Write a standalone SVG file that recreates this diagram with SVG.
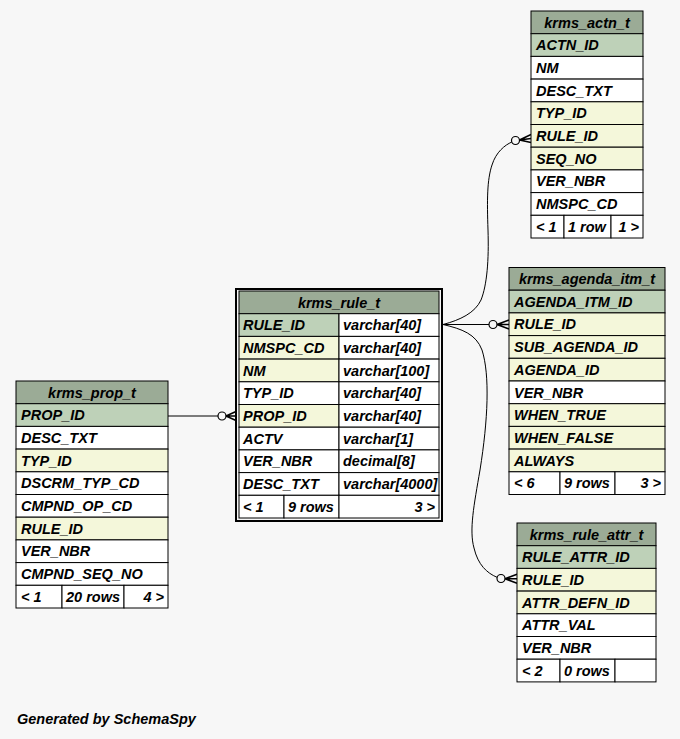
<svg xmlns="http://www.w3.org/2000/svg" width="680" height="739" viewBox="0 0 680 739">
<style>
.t{font-family:"Liberation Sans",Arial,sans-serif;font-weight:bold;font-style:italic;font-size:14.5px;fill:#000}
.m{text-anchor:middle}
.r{text-anchor:end}
rect.c{stroke:#000;stroke-width:1}
.h{fill:#9bab96}
.pk{fill:#bed1b8}
.ix{fill:#f4f7da}
.w{fill:#ffffff}
.e{fill:none;stroke:#000;stroke-width:1}
.o{fill:#f7f7f7;stroke:#000;stroke-width:1.2}
.cr{fill:none;stroke:#000;stroke-width:1.5}
</style>
<rect width="680" height="739" fill="#f7f7f7"/>

<g id="connectors">
  <!-- prop -> rule -->
  <path class="e" d="M168 416 H218"/>
  <circle class="o" cx="222" cy="416" r="4"/>
  <path class="cr" d="M226 416 L236 411.5 M226 416 L236 416 M226 416 L236 420.5"/>
  <!-- rule -> agenda -->
  <path class="e" d="M443 324.5 H489"/>
  <circle class="o" cx="493" cy="324.5" r="4"/>
  <path class="cr" d="M497 324.5 L509 320 M497 324.5 L509 324.5 M497 324.5 L509 329"/>
  <!-- rule -> actn -->
  <path class="e" d="M443 324.5 C460 320, 475 313, 481 300 C487 285, 489 260, 488 230 C487 200, 487 180, 492 165 C496 152, 505 145, 511.8 142"/>
  <circle class="o" cx="515.5" cy="140.5" r="4"/>
  <path class="cr" d="M519.5 140 L531 134.5 M519.5 140 L531 138.5 M519.5 140 L531 142.5"/>
  <!-- rule -> rule_attr -->
  <path class="e" d="M443 324.5 C462 329, 476 334, 482 350 C490 375, 488 420, 480 470 C474 505, 469 530, 474 548 C478 565, 487 573, 497 577.3"/>
  <circle class="o" cx="501" cy="578.5" r="4"/>
  <path class="cr" d="M505 578.8 L517 574.3 M505 578.8 L517 578.8 M505 578.8 L517 583.3"/>
</g>

<g id="krms_rule_t">
  <rect x="236" y="289" width="206" height="232" fill="none" stroke="#000" stroke-width="2"/>
  <rect class="c h" x="239" y="291" width="200" height="22.7"/>
  <text class="t m" x="339" y="307.5">krms_rule_t</text>
  <rect class="c pk" x="239" y="313.7" width="100" height="22.7"/><rect class="c w" x="339" y="313.7" width="100" height="22.7"/>
  <text class="t" x="243" y="330.2">RULE_ID</text><text class="t" x="343" y="330.2">varchar[40]</text>
  <rect class="c ix" x="239" y="336.4" width="100" height="22.7"/><rect class="c w" x="339" y="336.4" width="100" height="22.7"/>
  <text class="t" x="243" y="352.9">NMSPC_CD</text><text class="t" x="343" y="352.9">varchar[40]</text>
  <rect class="c ix" x="239" y="359.1" width="100" height="22.7"/><rect class="c w" x="339" y="359.1" width="100" height="22.7"/>
  <text class="t" x="243" y="375.6">NM</text><text class="t" x="343" y="375.6">varchar[100]</text>
  <rect class="c w" x="239" y="381.8" width="100" height="22.7"/><rect class="c w" x="339" y="381.8" width="100" height="22.7"/>
  <text class="t" x="243" y="398.3">TYP_ID</text><text class="t" x="343" y="398.3">varchar[40]</text>
  <rect class="c ix" x="239" y="404.5" width="100" height="22.7"/><rect class="c w" x="339" y="404.5" width="100" height="22.7"/>
  <text class="t" x="243" y="421">PROP_ID</text><text class="t" x="343" y="421">varchar[40]</text>
  <rect class="c w" x="239" y="427.2" width="100" height="22.7"/><rect class="c w" x="339" y="427.2" width="100" height="22.7"/>
  <text class="t" x="243" y="443.7">ACTV</text><text class="t" x="343" y="443.7">varchar[1]</text>
  <rect class="c w" x="239" y="449.9" width="100" height="22.7"/><rect class="c w" x="339" y="449.9" width="100" height="22.7"/>
  <text class="t" x="243" y="466.4">VER_NBR</text><text class="t" x="343" y="466.4">decimal[8]</text>
  <rect class="c w" x="239" y="472.6" width="100" height="22.7"/><rect class="c w" x="339" y="472.6" width="100" height="22.7"/>
  <text class="t" x="243" y="489.1">DESC_TXT</text><text class="t" x="343" y="489.1">varchar[4000]</text>
  <rect class="c w" x="239" y="495.3" width="45" height="22.7"/><rect class="c w" x="284" y="495.3" width="55" height="22.7"/><rect class="c w" x="339" y="495.3" width="100" height="22.7"/>
  <text class="t" x="243" y="511.8">&lt; 1</text><text class="t" x="288" y="511.8">9 rows</text><text class="t r" x="435" y="511.8">3 &gt;</text>
</g>

<g id="krms_prop_t">
  <rect class="c h" x="16" y="381" width="152" height="22.7"/>
  <text class="t m" x="92" y="397.5">krms_prop_t</text>
  <rect class="c pk" x="16" y="403.7" width="152" height="22.7"/><text class="t" x="21" y="420.2">PROP_ID</text>
  <rect class="c w" x="16" y="426.4" width="152" height="22.7"/><text class="t" x="21" y="442.9">DESC_TXT</text>
  <rect class="c ix" x="16" y="449.1" width="152" height="22.7"/><text class="t" x="21" y="465.6">TYP_ID</text>
  <rect class="c w" x="16" y="471.8" width="152" height="22.7"/><text class="t" x="21" y="488.3">DSCRM_TYP_CD</text>
  <rect class="c w" x="16" y="494.5" width="152" height="22.7"/><text class="t" x="21" y="511">CMPND_OP_CD</text>
  <rect class="c ix" x="16" y="517.2" width="152" height="22.7"/><text class="t" x="21" y="533.7">RULE_ID</text>
  <rect class="c w" x="16" y="539.9" width="152" height="22.7"/><text class="t" x="21" y="556.4">VER_NBR</text>
  <rect class="c w" x="16" y="562.6" width="152" height="22.7"/><text class="t" x="21" y="579.1">CMPND_SEQ_NO</text>
  <rect class="c w" x="16" y="585.3" width="46" height="22.7"/><rect class="c w" x="62" y="585.3" width="62" height="22.7"/><rect class="c w" x="124" y="585.3" width="44" height="22.7"/>
  <text class="t" x="21" y="601.8">&lt; 1</text><text class="t" x="66" y="601.8">20 rows</text><text class="t r" x="164" y="601.8">4 &gt;</text>
</g>

<g id="krms_actn_t">
  <rect class="c h" x="531" y="11" width="112" height="22.7"/>
  <text class="t m" x="587" y="27.5">krms_actn_t</text>
  <rect class="c pk" x="531" y="33.7" width="112" height="22.7"/><text class="t" x="536" y="50.2">ACTN_ID</text>
  <rect class="c w" x="531" y="56.4" width="112" height="22.7"/><text class="t" x="536" y="72.9">NM</text>
  <rect class="c w" x="531" y="79.1" width="112" height="22.7"/><text class="t" x="536" y="95.6">DESC_TXT</text>
  <rect class="c ix" x="531" y="101.8" width="112" height="22.7"/><text class="t" x="536" y="118.3">TYP_ID</text>
  <rect class="c ix" x="531" y="124.5" width="112" height="22.7"/><text class="t" x="536" y="141">RULE_ID</text>
  <rect class="c ix" x="531" y="147.2" width="112" height="22.7"/><text class="t" x="536" y="163.7">SEQ_NO</text>
  <rect class="c w" x="531" y="169.9" width="112" height="22.7"/><text class="t" x="536" y="186.4">VER_NBR</text>
  <rect class="c w" x="531" y="192.6" width="112" height="22.7"/><text class="t" x="536" y="209.1">NMSPC_CD</text>
  <rect class="c w" x="531" y="215.3" width="33" height="22.7"/><rect class="c w" x="564" y="215.3" width="47" height="22.7"/><rect class="c w" x="611" y="215.3" width="32" height="22.7"/>
  <text class="t" x="536" y="231.8">&lt; 1</text><text class="t" x="568" y="231.8">1 row</text><text class="t r" x="639" y="231.8">1 &gt;</text>
</g>

<g id="krms_agenda_itm_t">
  <rect class="c h" x="509" y="267.5" width="156" height="22.7"/>
  <text class="t m" x="587" y="284">krms_agenda_itm_t</text>
  <rect class="c pk" x="509" y="290.2" width="156" height="22.7"/><text class="t" x="514" y="306.7">AGENDA_ITM_ID</text>
  <rect class="c ix" x="509" y="312.9" width="156" height="22.7"/><text class="t" x="514" y="329.4">RULE_ID</text>
  <rect class="c ix" x="509" y="335.6" width="156" height="22.7"/><text class="t" x="514" y="352.1">SUB_AGENDA_ID</text>
  <rect class="c ix" x="509" y="358.3" width="156" height="22.7"/><text class="t" x="514" y="374.8">AGENDA_ID</text>
  <rect class="c w" x="509" y="381" width="156" height="22.7"/><text class="t" x="514" y="397.5">VER_NBR</text>
  <rect class="c ix" x="509" y="403.7" width="156" height="22.7"/><text class="t" x="514" y="420.2">WHEN_TRUE</text>
  <rect class="c ix" x="509" y="426.4" width="156" height="22.7"/><text class="t" x="514" y="442.9">WHEN_FALSE</text>
  <rect class="c ix" x="509" y="449.1" width="156" height="22.7"/><text class="t" x="514" y="465.6">ALWAYS</text>
  <rect class="c w" x="509" y="471.8" width="51" height="22.7"/><rect class="c w" x="560" y="471.8" width="55" height="22.7"/><rect class="c w" x="615" y="471.8" width="50" height="22.7"/>
  <text class="t" x="514" y="488.3">&lt; 6</text><text class="t" x="564" y="488.3">9 rows</text><text class="t r" x="661" y="488.3">3 &gt;</text>
</g>

<g id="krms_rule_attr_t">
  <rect class="c h" x="517" y="523" width="139" height="22.7"/>
  <text class="t m" x="586.5" y="539.5">krms_rule_attr_t</text>
  <rect class="c pk" x="517" y="545.7" width="139" height="22.7"/><text class="t" x="522" y="562.2">RULE_ATTR_ID</text>
  <rect class="c ix" x="517" y="568.4" width="139" height="22.7"/><text class="t" x="522" y="584.9">RULE_ID</text>
  <rect class="c ix" x="517" y="591.1" width="139" height="22.7"/><text class="t" x="522" y="607.6">ATTR_DEFN_ID</text>
  <rect class="c w" x="517" y="613.8" width="139" height="22.7"/><text class="t" x="522" y="630.3">ATTR_VAL</text>
  <rect class="c w" x="517" y="636.5" width="139" height="22.7"/><text class="t" x="522" y="653">VER_NBR</text>
  <rect class="c w" x="517" y="659.2" width="43" height="22.7"/><rect class="c w" x="560" y="659.2" width="55" height="22.7"/><rect class="c w" x="615" y="659.2" width="41" height="22.7"/>
  <text class="t" x="522" y="675.7">&lt; 2</text><text class="t" x="564" y="675.7">0 rows</text>
</g>

<text class="t" x="17" y="724">Generated by SchemaSpy</text>
</svg>
